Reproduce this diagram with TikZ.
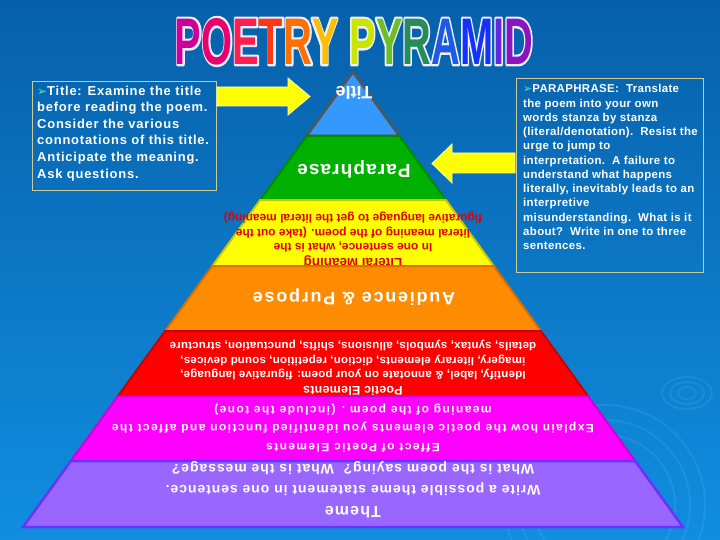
\documentclass[tikz,border=0pt]{standalone}
\usepackage{fontspec}
\setmainfont{Liberation Sans}
\newfontfamily\symfont{DejaVu Sans}
\newfontfamily\lsA{Liberation Sans}[LetterSpace=6]
\newfontfamily\lsB{Liberation Sans}[LetterSpace=3]
\newfontfamily\lsC{Liberation Sans}[LetterSpace=10]
\newfontfamily\lsD{Liberation Sans}[LetterSpace=2]
\newfontfamily\lsE{Liberation Sans}[LetterSpace=12]
\newfontfamily\lsF{Liberation Sans}[LetterSpace=7]
\newfontfamily\titlehalo{Liberation Sans Bold}[FakeBold=7]
\newfontfamily\titlemain{Liberation Sans Bold}
\usetikzlibrary{calc}

\definecolor{bgtop}{RGB}{7,96,170}
\definecolor{bgbot}{RGB}{16,142,224}
\definecolor{boxline}{RGB}{204,204,153}
\definecolor{bulletc}{RGB}{90,230,180}
\definecolor{arrowy}{RGB}{255,255,0}
\definecolor{arrowedge}{RGB}{255,255,200}
\definecolor{titlefill}{RGB}{51,153,255}
\definecolor{titleline}{RGB}{85,85,85}
\definecolor{greenfill}{RGB}{0,176,0}
\definecolor{greenline}{RGB}{0,140,0}
\definecolor{yellowfill}{RGB}{255,255,0}
\definecolor{yellowline}{RGB}{200,200,0}
\definecolor{orangefill}{RGB}{255,140,0}
\definecolor{orangeline}{RGB}{220,110,0}
\definecolor{redfill}{RGB}{255,0,0}
\definecolor{redline}{RGB}{200,0,0}
\definecolor{magfill}{RGB}{255,0,255}
\definecolor{magline}{RGB}{205,0,215}
\definecolor{purpfill}{RGB}{153,102,255}
\definecolor{purpline}{RGB}{102,51,255}
\definecolor{redtext}{RGB}{225,0,0}
\definecolor{halocol}{RGB}{240,240,250}
\definecolor{c1}{RGB}{204,0,153}
\definecolor{c2}{RGB}{232,0,110}
\definecolor{c3}{RGB}{255,30,80}
\definecolor{c4}{RGB}{255,55,20}
\definecolor{c5}{RGB}{255,110,0}
\definecolor{c6}{RGB}{255,190,0}
\definecolor{c7}{RGB}{200,230,0}
\definecolor{c8}{RGB}{110,190,40}
\definecolor{c9}{RGB}{40,140,90}
\definecolor{c10}{RGB}{30,90,230}
\definecolor{c11}{RGB}{20,50,255}
\definecolor{c12}{RGB}{100,40,220}
\definecolor{c13}{RGB}{140,20,190}

\newcommand\tc[2]{\textcolor{#1}{#2}}
\newcommand\plainletter[2]{#2}
\newcommand\titletext{\tc{c1}{P}\tc{c2}{O}\tc{c3}{E}\tc{c4}{T}\tc{c5}{R}\tc{c6}{Y} \tc{c7}{P}\tc{c8}{Y}\tc{c9}{R}\tc{c10}{A}\tc{c11}{M}\tc{c12}{I}\tc{c13}{D}}
\newcommand\titlebox[1]{\resizebox{358bp}{46bp}{#1}}

\begin{document}
\begin{tikzpicture}[x=1bp,y=-1bp,
  layer/.style={line width=2bp},
  rot/.style={rotate=180, inner sep=0pt, align=center, text=white},
  arrowshape/.style={fill=arrowy, draw=arrowedge, line width=0.8bp},
  infobox/.style={draw=boxline, line width=0.9bp, anchor=north west, inner sep=0pt, outer sep=0pt},
  infotext/.style={anchor=north west, inner sep=0pt, align=left, text=white}]

\clip (0,0) rectangle (720,540);
\shade[top color=bgtop, middle color=bgtop, bottom color=bgbot] (0,0) rectangle (720,540);

% faint ripples
\begin{scope}[draw=white, opacity=0.07, line width=2bp]
  \draw (687,393) ellipse (9 and 6);
  \draw (687,393) ellipse (17 and 11);
  \draw (687,393) ellipse (25 and 16);
  \draw (605,505) circle (70);
  \draw (605,505) circle (85);
  \draw (605,505) circle (100);
\end{scope}

% title: white outlined copy beneath the coloured letters
\node[inner sep=0pt, text=halocol, line join=round] (thalo) at (354,41.5)
  {\special{pdf:literal direct 1 j}\titlebox{\special{pdf:literal direct 1 j}\titlehalo\let\tc\plainletter\titletext}};
\node[inner sep=0pt] (ttl) at (354,41.5) {\titlebox{\titlemain\titletext}};

% pyramid geometry
\coordinate (A) at (353,72);
\coordinate (BL) at (23,527);
\coordinate (BR) at (683,527);
\foreach \i/\f in {1/0.14066,2/0.28132,3/0.42637,4/0.56923,5/0.71209,6/0.85495,7/1}{
  \coordinate (L\i) at ($(A)!\f!(BL)$);
  \coordinate (R\i) at ($(A)!\f!(BR)$);
}

% layer 1: Title
\filldraw[layer, line width=2.5bp, fill=titlefill, draw=titleline] (A) -- (L1) -- (R1) -- cycle;
\node[rot, font=\bfseries\fontsize{18}{20}\selectfont] (ttitle) at (354,93) {Title};

% layer 2: Paraphrase
\filldraw[layer, fill=greenfill, draw=greenline] (L1) -- (L2) -- (R2) -- (R1) -- cycle;
\node[rot, font=\lsA\bfseries\fontsize{19}{21}\selectfont] (tpara) at (354,169) {Paraphrase};

% layer 3: Literal meaning
\filldraw[layer, fill=yellowfill, draw=yellowline] (L2) -- (L3) -- (R3) -- (R2) -- cycle;
\node[rot, text=redtext, font=\bfseries\fontsize{12}{14.6}\selectfont] (tlit) at (353,240)
  {{\fontsize{13.5}{14.6}\selectfont Literal Meaning}\\In one sentence, what is the\\literal meaning of the poem. (take out the\\figurative language to get the literal meaning)};

% layer 4: Audience & Purpose
\filldraw[layer, fill=orangefill, draw=orangeline] (L3) -- (L4) -- (R4) -- (R3) -- cycle;
\node[rot, font=\lsC\bfseries\fontsize{18}{20}\selectfont] (taud) at (354,297) {Audience \& Purpose};

% layer 5: Poetic Elements
\filldraw[layer, fill=redfill, draw=redline] (L4) -- (L5) -- (R5) -- (R4) -- cycle;
\node[rot, font=\lsD\bfseries\fontsize{11.5}{14.6}\selectfont] (tpoetic) at (353,368)
  {{\fontsize{12.5}{14.6}\selectfont Poetic Elements}\\Identify, label, \& annotate on your poem: figurative language,\\imagery, literary elements, diction, repetition, sound devices,\\details, syntax, symbols, allusions, shifts, punctuation, structure};

% layer 6: Effect of Poetic Elements
\filldraw[layer, fill=magfill, draw=magline] (L5) -- (L6) -- (R6) -- (R5) -- cycle;
\node[rot, font=\lsE\bfseries\fontsize{12}{18.5}\selectfont] (teffect) at (353,428)
  {Effect of Poetic Elements\\Explain how the poetic elements you identified function and affect the\\meaning of the poem . (include the tone)};

% layer 7: Theme
\filldraw[layer, line width=2.5bp, fill=purpfill, draw=purpline] (L6) -- (L7) -- (R7) -- (R6) -- cycle;
\node[rot, font=\lsF\bfseries\fontsize{14}{21}\selectfont] (ttheme) at (353,490)
  {{\fontsize{16}{21}\selectfont Theme}\\Write a possible theme statement in one sentence.\\What is the poem saying?\ \ What is the message?};

% info boxes
\node[infobox, minimum width=184bp, minimum height=109bp] (lbox) at (32,81) {};
\node[infotext, font=\lsA\bfseries\fontsize{13}{16.7}\selectfont] (ltext) at (37,85.5)
  {{\symfont\fontsize{12}{12}\selectfont\textcolor{bulletc}{➢}}Title: Examine the title\\before reading the poem.\\Consider the various\\connotations of this title.\\Anticipate the meaning.\\Ask questions.};

\node[infobox, minimum width=187bp, minimum height=194bp] (rbox) at (516,78) {};
\node[infotext, font=\lsB\bfseries\fontsize{11.5}{14.3}\selectfont] (rtext) at (523,84.3)
  {{\symfont\fontsize{11}{12}\selectfont\textcolor{bulletc}{➢}}PARAPHRASE:\ \ Translate\\the poem into your own\\words stanza by stanza\\(literal/denotation).\ \ Resist the\\urge to jump to\\interpretation.\ \ A failure to\\understand what happens\\literally, inevitably leads to an\\interpretive\\misunderstanding.\ \ What is it\\about?\ \ Write in one to three\\sentences.};

% arrows
\filldraw[arrowshape] (217,87) -- (288,87) -- (288,78) -- (310,96.5) -- (288,115) -- (288,106) -- (217,106) -- cycle;
\filldraw[arrowshape] (515,153) -- (452,153) -- (452,144) -- (432,163.5) -- (452,183) -- (452,173) -- (515,173) -- cycle;

\end{tikzpicture}
\end{document}
